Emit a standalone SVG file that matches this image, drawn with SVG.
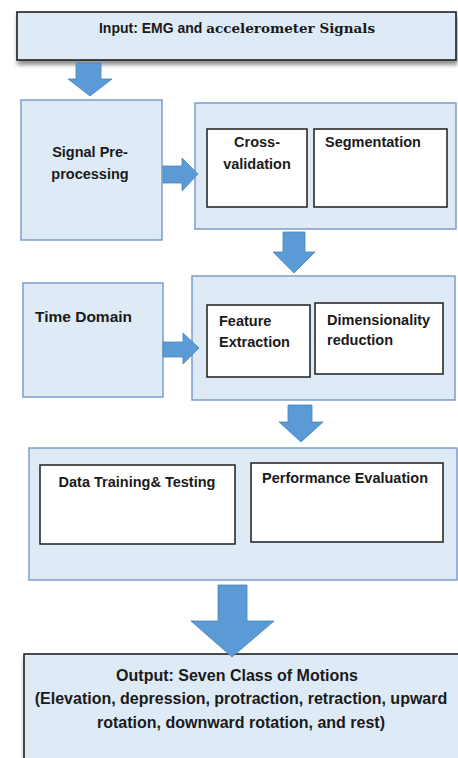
<svg xmlns="http://www.w3.org/2000/svg" width="458" height="758" viewBox="0 0 458 758">
  <defs>
    <filter id="shadow" x="-5%" y="-10%" width="115%" height="140%">
      <feGaussianBlur in="SourceAlpha" stdDeviation="2"/>
      <feOffset dx="1" dy="4" result="b"/>
      <feComponentTransfer><feFuncA type="linear" slope="0.45"/></feComponentTransfer>
      <feMerge><feMergeNode/><feMergeNode in="SourceGraphic"/></feMerge>
    </filter>
    <style>
      .io { fill: #deeaf6; stroke: #1e1e1e; stroke-width: 1.6; }
      .panel { fill: #deeaf6; stroke: #7497c6; stroke-width: 1.4; }
      .inner { fill: #ffffff; stroke: #1e1e1e; stroke-width: 1.5; }
      .arrow { fill: #5b9bd5; stroke: #4a84bd; stroke-width: 0.8; }
      text { font-family: "Liberation Sans", Arial, sans-serif; font-weight: bold; fill: #1a1a1a; font-size: 14.5px; }
      .c { text-anchor: middle; }
      .serif { font-family: "DejaVu Serif", "Liberation Serif", serif; font-size: 13.5px; }
      .big { font-size: 16px; }
    </style>
  </defs>
  <rect width="458" height="758" fill="#ffffff"/>

  <!-- input -->
  <g id="input">
    <rect class="io" x="17" y="12" width="439" height="48" filter="url(#shadow)"/>
    <text class="c" x="237" y="33" style="font-size:14px">Input: EMG and <tspan class="serif">accelerometer Signals</tspan></text>
  </g>

  <!-- preprocessing stage -->
  <g id="signal-preprocessing">
    <rect class="panel" x="21" y="100" width="141" height="140"/>
    <text class="c" x="90" y="157">Signal Pre-</text>
    <text class="c" x="90" y="179">processing</text>
  </g>
  <g id="preprocessing-steps">
    <rect class="panel" x="195" y="103" width="261" height="126"/>
    <g id="cross-validation">
      <rect class="inner" x="207" y="129" width="100" height="78"/>
      <text class="c" x="257" y="147">Cross-</text>
      <text class="c" x="257" y="169">validation</text>
    </g>
    <g id="segmentation">
      <rect class="inner" x="314" y="129" width="133" height="78"/>
      <text x="325" y="147">Segmentation</text>
    </g>
  </g>

  <!-- feature stage -->
  <g id="time-domain">
    <rect class="panel" x="23" y="283" width="140" height="114"/>
    <text x="35" y="322" style="font-size:15.5px">Time Domain</text>
  </g>
  <g id="feature-steps">
    <rect class="panel" x="192" y="276" width="263" height="124"/>
    <g id="feature-extraction">
      <rect class="inner" x="207" y="305" width="103" height="72"/>
      <text x="219" y="326">Feature</text>
      <text x="219" y="347">Extraction</text>
    </g>
    <g id="dimensionality-reduction">
      <rect class="inner" x="315" y="303" width="128" height="71"/>
      <text x="327" y="325">Dimensionality</text>
      <text x="327" y="345">reduction</text>
    </g>
  </g>

  <!-- classification stage -->
  <g id="classification">
    <rect class="panel" x="29" y="448" width="428" height="132"/>
    <g id="training-testing">
      <rect class="inner" x="40" y="465" width="195" height="79"/>
      <text class="c" x="137" y="487">Data Training&amp; Testing</text>
    </g>
    <g id="performance-evaluation">
      <rect class="inner" x="251" y="463" width="192" height="79"/>
      <text class="c" x="345" y="483">Performance Evaluation</text>
    </g>
  </g>

  <!-- output -->
  <g id="output">
    <rect class="io" x="24" y="654" width="440" height="120" filter="url(#shadow)"/>
    <text class="c big" x="237" y="681">Output: Seven Class of Motions</text>
    <text class="c big" x="241" y="704">(Elevation, depression, protraction, retraction, upward</text>
    <text class="c big" x="241" y="728">rotation, downward rotation, and rest)</text>
  </g>

  <!-- block arrows between stages -->
  <g id="connectors">
    <polygon class="arrow" points="76,63 101,63 101,79 112,79 90,96 68,79 76,79"/>
    <polygon class="arrow" points="163,166 182,166 182,158 198,174 182,191 182,183 163,183"/>
    <polygon class="arrow" points="283,232 305,232 305,252 315,252 294,273 273,252 283,252"/>
    <polygon class="arrow" points="163,342 183,342 183,333 199,348 183,364 183,357 163,357"/>
    <polygon class="arrow" points="288,405 312,405 312,422 323,422 301,442 279,422 288,422"/>
    <polygon class="arrow" points="218,585 247,585 247,621 274,621 232,657 191,621 218,621"/>
  </g>
</svg>
